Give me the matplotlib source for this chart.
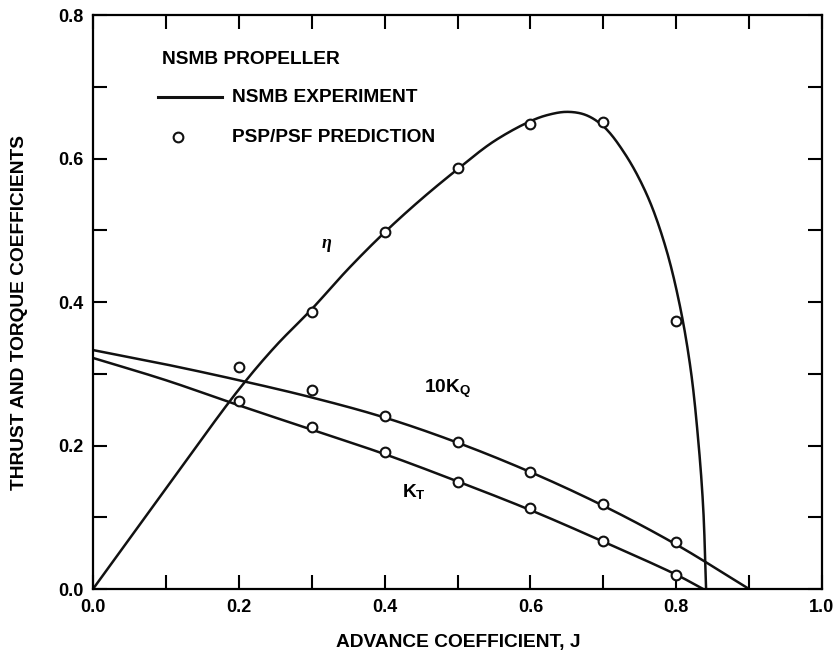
import matplotlib
matplotlib.use("Agg")
import matplotlib.pyplot as plt
import numpy as np

plt.rcParams['font.family'] = ['Liberation Sans', 'DejaVu Sans']
plt.rcParams['font.weight'] = 'bold'
plt.rcParams['mathtext.fontset'] = 'custom'
plt.rcParams['mathtext.rm'] = 'Liberation Sans:bold'
plt.rcParams['mathtext.bf'] = 'Liberation Sans:bold'
plt.rcParams['mathtext.it'] = 'Liberation Serif:italic'

# ---- data ----
j_kt_exp = [0.0, 0.1, 0.2, 0.3, 0.4, 0.5, 0.6, 0.7, 0.8, 0.837]
kt_exp = [0.322, 0.291, 0.256, 0.222, 0.188, 0.150, 0.110, 0.066, 0.020, 0.0]

j_kq_exp = [0.0, 0.1, 0.2, 0.3, 0.4, 0.5, 0.6, 0.7, 0.8, 0.9]
kq10_exp = [0.333, 0.313, 0.291, 0.267, 0.239, 0.204, 0.163, 0.116, 0.062, 0.0]

j_eta_exp = [0.0, 0.1, 0.2, 0.25, 0.3, 0.35, 0.4, 0.45, 0.5, 0.55, 0.6, 0.625,
             0.65, 0.675, 0.7, 0.73, 0.76, 0.785, 0.805, 0.82, 0.83, 0.837, 0.841]
eta_exp = [0.0, 0.140, 0.278, 0.338, 0.390, 0.446, 0.497, 0.543, 0.585, 0.624, 0.652, 0.661,
           0.665, 0.661, 0.645, 0.606, 0.549, 0.478, 0.395, 0.305, 0.210, 0.114, 0.0]

j_pred = [0.2, 0.3, 0.4, 0.5, 0.6, 0.7, 0.8]
kt_pred = [0.262, 0.226, 0.191, 0.149, 0.113, 0.067, 0.020]
kq10_pred = [0.309, 0.277, 0.241, 0.205, 0.163, 0.119, 0.066]
j_eta_pred = [0.3, 0.4, 0.5, 0.6, 0.7, 0.8]
eta_pred = [0.386, 0.498, 0.587, 0.648, 0.651, 0.374]


def smooth(xs, ys, n=20):
    """Centripetal Catmull-Rom rendering through the read points (drawing only)."""
    P = np.column_stack([xs, np.array(ys) * 1.25])
    P = np.vstack([2 * P[0] - P[1], P, 2 * P[-1] - P[-2]])
    out = []
    for i in range(1, len(P) - 2):
        p0, p1, p2, p3 = P[i - 1], P[i], P[i + 1], P[i + 2]
        def tj(ti, a, b):
            return ti + max(np.linalg.norm(b - a), 1e-9) ** 0.5
        t0 = 0.0
        t1 = tj(t0, p0, p1)
        t2 = tj(t1, p1, p2)
        t3 = tj(t2, p2, p3)
        t = np.linspace(t1, t2, n, endpoint=False)[:, None]
        A1 = (t1 - t) / (t1 - t0) * p0 + (t - t0) / (t1 - t0) * p1
        A2 = (t2 - t) / (t2 - t1) * p1 + (t - t1) / (t2 - t1) * p2
        A3 = (t3 - t) / (t3 - t2) * p2 + (t - t2) / (t3 - t2) * p3
        B1 = (t2 - t) / (t2 - t0) * A1 + (t - t0) / (t2 - t0) * A2
        B2 = (t3 - t) / (t3 - t1) * A2 + (t - t1) / (t3 - t1) * A3
        C = (t2 - t) / (t2 - t1) * B1 + (t - t1) / (t2 - t1) * B2
        out.append(C)
    out.append(P[-2][None, :])
    C = np.vstack(out)
    return C[:, 0], C[:, 1] / 1.25


fig = plt.figure(figsize=(8.39, 6.67), dpi=100)
ax = fig.add_axes([93/839, 1-589/667, 729/839, 574/667])

lw = 1.8
for xs, ys in [(j_kt_exp, kt_exp), (j_kq_exp, kq10_exp), (j_eta_exp, eta_exp)]:
    sx, sy = smooth(xs, ys)
    ax.plot(sx, sy, color='#111111', lw=lw, solid_joinstyle='round', zorder=2)

mk = dict(marker='o', ls='none', ms=7, mfc='white', mec='#111111', mew=1.5, zorder=3)
ax.plot(j_pred, kt_pred, **mk)
ax.plot(j_pred, kq10_pred, **mk)
ax.plot(j_eta_pred, eta_pred, **mk)

ax.set_xlim(0, 1.0)
ax.set_ylim(0, 0.8)
xt = [i / 10 for i in range(11)]
yt = [i / 10 for i in range(9)]
ax.set_xticks(xt)
ax.set_yticks(yt)
ax.set_xticklabels([f"{t:.1f}" if round(t * 10) % 2 == 0 else "" for t in xt])
ax.set_yticklabels([f"{t:.1f}" if round(t * 10) % 2 == 0 else "" for t in yt])
ax.tick_params(direction='in', length=10, width=1.5, top=True, right=True,
               labelsize=13, pad=7)
for lab in ax.get_xticklabels() + ax.get_yticklabels():
    lab.set_fontweight('bold')
for s in ax.spines.values():
    s.set_linewidth(1.6)

# legend block
fs = 13.8
ax.text(0.095, 0.923, "NSMB PROPELLER", transform=ax.transAxes, fontsize=fs,
        fontweight='bold', ha='left', va='center')
ax.plot([0.089, 0.177], [0.857, 0.857], transform=ax.transAxes, color='#111111',
        lw=2.2, clip_on=False)
ax.text(0.191, 0.857, "NSMB EXPERIMENT", transform=ax.transAxes, fontsize=fs,
        fontweight='bold', ha='left', va='center')
ax.plot([0.117], [0.787], transform=ax.transAxes, marker='o', ms=7, mfc='white',
        mec='#111111', mew=1.5, ls='none', clip_on=False)
ax.text(0.191, 0.787, "PSP/PSF PREDICTION", transform=ax.transAxes, fontsize=fs,
        fontweight='bold', ha='left', va='center')

# curve labels
ax.text(0.321, 0.479, r"$\eta$", fontsize=13, ha='center', va='center')
ax.text(0.454, 0.279, r"10K$_{\mathbf{Q}}$", fontsize=fs, ha='left', va='center')
ax.text(0.424, 0.135, r"K$_{\mathbf{T}}$", fontsize=fs, ha='left', va='center')

fig.text(458/839, 1-643/667, "ADVANCE COEFFICIENT, J", fontsize=fs,
         fontweight='bold', ha='center', va='center')
fig.text(20/839, 1-312/667, "THRUST AND TORQUE COEFFICIENTS", fontsize=fs,
         fontweight='bold', rotation=90, ha='center', va='center')

fig.savefig("out.png", dpi=100, facecolor='white')
